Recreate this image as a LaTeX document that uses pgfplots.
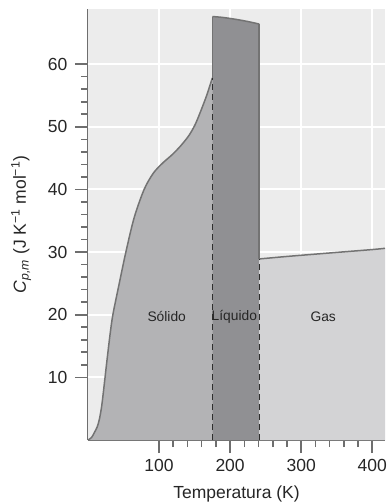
\documentclass[border=0pt]{standalone}
\usepackage{fontspec}
\setmainfont{Liberation Sans}
\usepackage{pgfplots}
\pgfplotsset{compat=1.18}
\usetikzlibrary{calc}
\definecolor{bgcol}{rgb}{0.925,0.925,0.925}
\definecolor{gridc}{rgb}{1,1,1}
\definecolor{solidc}{HTML}{B3B3B5}
\definecolor{liqc}{HTML}{909093}
\definecolor{gasc}{HTML}{D3D3D5}
\definecolor{linec}{HTML}{737373}
\definecolor{axc}{HTML}{6E6E6E}
\definecolor{dashc}{HTML}{2E2E2E}
\pgfplotstableread{
T Cp
0 0
5 0.4
9 1.2
13 2.1
16 3.3
19 5.2
21.5 7.5
24 10
27 13
31 16.8
35 20
44 25
53.3 30
65 35.5
79 40
92 42.6
105 44.2
118 45.5
130 46.9
142 48.6
151 50.4
159 52.6
167 55
175 57.8
}\solid
\pgfplotstableread{
T Cp
175 67.6
190 67.45
208 67.15
225 66.8
241 66.4
}\liqtop
\pgfplotstableread{
T Cp
241 28.9
280 29.3
345 29.9
400 30.4
418 30.6
}\gas
\begin{document}
\begin{tikzpicture}
\begin{axis}[name=ax, at={(0pt,0pt)}, anchor=south west, width=297pt, height=431pt, scale only axis,
  xmin=0, xmax=418, ymin=0, ymax=68.8,
  axis x line*=bottom, axis y line*=left,
  axis line style={axc, line width=1.6pt, -},
  xtick={100,200,300,400}, ytick={10,20,30,40,50,60},
  minor x tick num=4, minor y tick num=4,
  tick align=outside, major tick length=13pt, minor tick length=7pt,
  tick style={axc, line width=1.6pt},
  ticklabel style={font=\fontsize{17.5}{20}\selectfont, text=black!85},
  yticklabel style={xshift=-4pt},
  xticklabel style={yshift=-3pt},
  /pgf/number format/assume math mode=true,
  xlabel={Temperatura (K)},
  ylabel={\textit{C}\textsubscript{\textit{p,m}} (J K\textsuperscript{−1} mol\textsuperscript{−1})},
  label style={font=\fontsize{17.5}{20}\selectfont, text=black!85},
  xlabel style={yshift=-7pt},
  ylabel style={yshift=10pt},
  clip=true,
]
% background and white grid
\addplot[fill=bgcol, draw=none] coordinates {(0,0) (0,68.8) (418,68.8) (418,0)} -- cycle;
\addplot[draw=gridc, line width=2pt] coordinates {(100,0) (100,68.8)};
\addplot[draw=gridc, line width=2pt] coordinates {(200,0) (200,68.8)};
\addplot[draw=gridc, line width=2pt] coordinates {(300,0) (300,68.8)};
\addplot[draw=gridc, line width=2pt] coordinates {(400,0) (400,68.8)};
\addplot[draw=gridc, line width=2pt] coordinates {(0,10) (418,10)};
\addplot[draw=gridc, line width=2pt] coordinates {(0,20) (418,20)};
\addplot[draw=gridc, line width=2pt] coordinates {(0,30) (418,30)};
\addplot[draw=gridc, line width=2pt] coordinates {(0,40) (418,40)};
\addplot[draw=gridc, line width=2pt] coordinates {(0,50) (418,50)};
\addplot[draw=gridc, line width=2pt] coordinates {(0,60) (418,60)};
% solid
\addplot[fill=solidc, draw=none, smooth, tension=0.5] table[x=T,y=Cp]{\solid} -- (axis cs:175,0) -- (axis cs:0,0) -- cycle;
% liquid
\addplot[fill=liqc, draw=none, smooth, tension=0.5] table[x=T,y=Cp]{\liqtop} -- (axis cs:241,0) -- (axis cs:175,0) -- cycle;
% gas
\addplot[fill=gasc, draw=none, smooth, tension=0.5] table[x=T,y=Cp]{\gas} -- (axis cs:418,0) -- (axis cs:241,0) -- cycle;
% outlines
\addplot[linec, line width=1.5pt, smooth, tension=0.5] table[x=T,y=Cp]{\solid};
\addplot[linec, line width=1.5pt, smooth, tension=0.5] table[x=T,y=Cp]{\liqtop};
\addplot[linec, line width=1.5pt] coordinates {(175,57.8) (175,67.6)};
\addplot[linec, line width=1.5pt] coordinates {(241,66.4) (241,28.9)};
\addplot[linec, line width=1.5pt, smooth, tension=0.5] table[x=T,y=Cp]{\gas};
% dashed
\addplot[dashc, line width=1.2pt, dash pattern=on 6pt off 4pt] coordinates {(175,0) (175,57.8)};
\addplot[dashc, line width=1.2pt, dash pattern=on 6pt off 4pt] coordinates {(241,0) (241,28.9)};
\node[font=\fontsize{13.8}{16}\selectfont, text=black!85] at (axis cs:110.8,19.7) {Sólido};
\node[font=\fontsize{13.8}{16}\selectfont, text=black!85] at (axis cs:206,19.7) {Líquido};
\node[font=\fontsize{13.8}{16}\selectfont, text=black!85] at (axis cs:331,19.7) {Gas};
\end{axis}
\pgfresetboundingbox
\path[use as bounding box] (-88pt,-64pt) rectangle (302pt,440pt);
\end{tikzpicture}
\end{document}
